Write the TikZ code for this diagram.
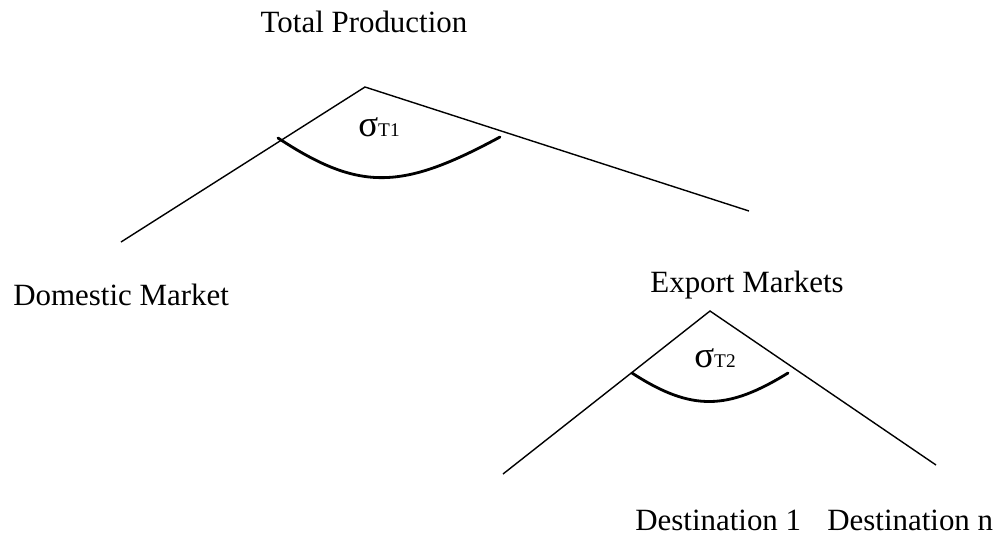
\documentclass[tikz,border=0pt]{standalone}
\usepackage{fontspec}
\setmainfont{Liberation Serif}
\usepackage{tikz}

\begin{document}
\begin{tikzpicture}[x=0.02cm,y=-0.02cm,
    lbl/.style={inner sep=0pt,font=\fontsize{17.6}{21}\selectfont},
    branch/.style={line width=0.8pt},
    elas/.style={line width=1.6pt,line cap=round}]
    \useasboundingbox (0,0) rectangle (1001,539);
    % upper nest
    \node[lbl,anchor=base] (tp) at (364,32) {Total Production};
    \coordinate (t) at (365,87);
    \coordinate (dm) at (121,242);
    \coordinate (ex) at (749,211);
    \draw[branch] (dm) -- (t) -- (ex);
    \coordinate (a1) at (278,138);
    \coordinate (b1) at (500,137);
    \draw[elas] (a1) .. controls (360,192) and (402,190) .. (b1);
    \node[lbl,anchor=base] (s1) at (379,136) {{\fontsize{21}{21}\selectfont σ}{\fontsize{11}{13}\selectfont T1}};
    \node[lbl,anchor=base west] (dom) at (13,305) {Domestic Market};
    % lower nest
    \node[lbl,anchor=base] (em) at (747,292) {Export Markets};
    \coordinate (e) at (710,311);
    \coordinate (d1) at (503,474);
    \coordinate (dn) at (936,465);
    \draw[branch] (d1) -- (e) -- (dn);
    \coordinate (a2) at (632,373);
    \coordinate (b2) at (788,373);
    \draw[elas] (a2) .. controls (692,412) and (728,410) .. (b2);
    \node[lbl,anchor=base] (s2) at (715,367) {{\fontsize{21}{21}\selectfont σ}{\fontsize{11}{13}\selectfont T2}};
    \node[lbl,anchor=base west] (dest1) at (635,530) {Destination 1};
    \node[lbl,anchor=base west] (destn) at (827,530) {Destination n};
  \end{tikzpicture}
\end{document}
